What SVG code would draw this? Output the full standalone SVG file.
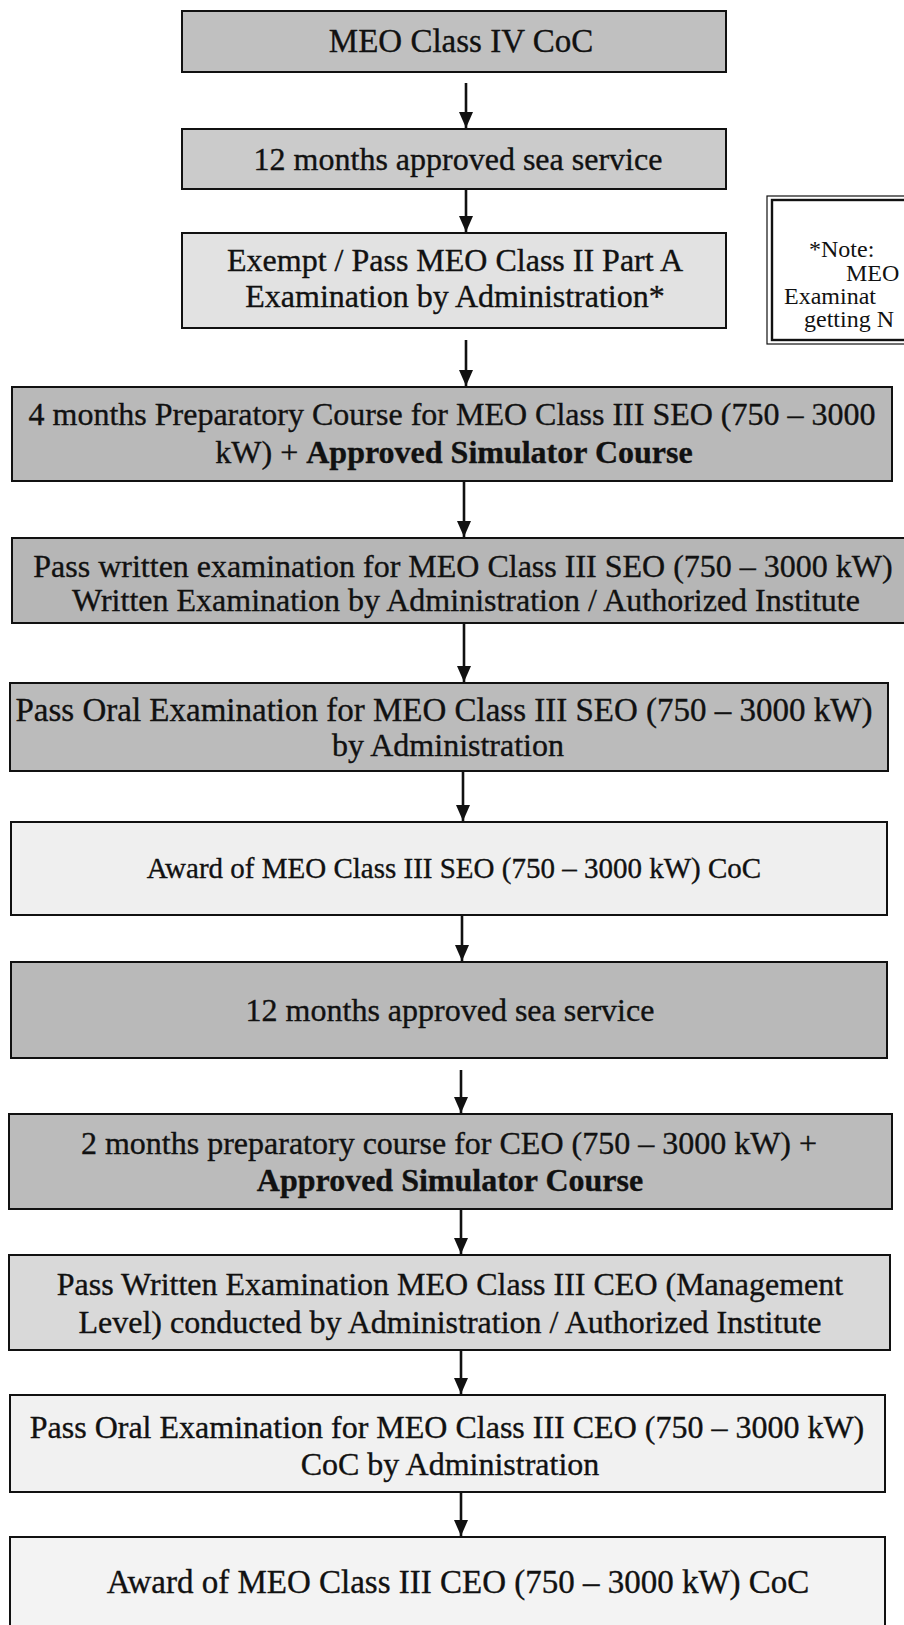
<svg xmlns="http://www.w3.org/2000/svg" width="904" height="1625" viewBox="0 0 904 1625">
<style>
.box{stroke:#111;stroke-width:2}
.t{font-family:"Liberation Serif","Times New Roman",serif;font-size:32px;fill:#111;stroke:#111;stroke-width:0.35;text-anchor:middle}
.b{font-weight:bold}
.n{font-family:"Liberation Serif","Times New Roman",serif;font-size:24px;fill:#111}
.c{stroke:#111;stroke-width:2.6;fill:none}
</style>
<defs>
<marker id="ah" markerUnits="userSpaceOnUse" markerWidth="16" markerHeight="17" viewBox="0 0 16 17" refX="16" refY="8" orient="auto">
<path d="M0,1 L16,8 L0,15 Z" fill="#111"/>
</marker>
</defs>
<rect width="904" height="1625" fill="#fff"/>

<g id="n1"><rect class="box" x="182" y="11" width="544" height="61" fill="#c0c0c0"/>
<text class="t" x="461" y="52" style="font-size:33px">MEO Class IV CoC</text></g>

<g id="n2"><rect class="box" x="182" y="129" width="544" height="60" fill="#cbcbcb"/>
<text class="t" x="458" y="170">12 months approved sea service</text></g>

<g id="n3"><rect class="box" x="182" y="233" width="544" height="95" fill="#e2e2e2"/>
<text class="t" x="455" y="271">Exempt / Pass MEO Class II Part A</text>
<text class="t" x="455" y="307">Examination by Administration*</text></g>

<g id="note"><rect x="767" y="196" width="200" height="148" fill="#fff" stroke="#111" stroke-width="1.2"/>
<rect x="772" y="200" width="200" height="140" fill="none" stroke="#111" stroke-width="2.4"/>
<text class="n" x="809" y="257">*Note:</text>
<text class="n" x="846" y="281">MEO</text>
<text class="n" x="784" y="304">Examinat</text>
<text class="n" x="804" y="327">getting N</text></g>

<g id="n4"><rect class="box" x="12" y="387" width="880" height="94" fill="#b9b9b9"/>
<text class="t" x="452" y="425">4 months Preparatory Course for MEO Class III SEO (750 – 3000</text>
<text class="t" x="454" y="463">kW) + <tspan class="b">Approved Simulator Course</tspan></text></g>

<g id="n5"><rect class="box" x="12" y="538" width="910" height="85" fill="#b6b6b6"/>
<text class="t" x="463" y="577">Pass written examination for MEO Class III SEO (750 – 3000 kW)</text>
<text class="t" x="466" y="611">Written Examination by Administration / Authorized Institute</text></g>

<g id="n6"><rect class="box" x="10" y="683" width="878" height="88" fill="#bbbbbb"/>
<text class="t" x="444" y="721" style="font-size:33px">Pass Oral Examination for MEO Class III SEO (750 – 3000 kW)</text>
<text class="t" x="448" y="756">by Administration</text></g>

<g id="n7"><rect class="box" x="11" y="822" width="876" height="93" fill="#efefef"/>
<text class="t" x="454" y="878" style="font-size:29px">Award of MEO Class III SEO (750 – 3000 kW) CoC</text></g>

<g id="n8"><rect class="box" x="11" y="962" width="876" height="96" fill="#b9b9b9"/>
<text class="t" x="450" y="1021">12 months approved sea service</text></g>

<g id="n9"><rect class="box" x="9" y="1114" width="883" height="95" fill="#bbbbbb"/>
<text class="t" x="449" y="1154">2 months preparatory course for CEO (750 – 3000 kW) +</text>
<text class="t b" x="450" y="1191">Approved Simulator Course</text></g>

<g id="n10"><rect class="box" x="9" y="1255" width="881" height="95" fill="#d9d9d9"/>
<text class="t" x="450" y="1295">Pass Written Examination MEO Class III CEO (Management</text>
<text class="t" x="450" y="1333">Level) conducted by Administration / Authorized Institute</text></g>

<g id="n11"><rect class="box" x="10" y="1395" width="875" height="97" fill="#f1f1f1"/>
<text class="t" x="447" y="1438">Pass Oral Examination for MEO Class III CEO (750 – 3000 kW)</text>
<text class="t" x="450" y="1475">CoC by Administration</text></g>

<g id="n12"><rect class="box" x="10" y="1537" width="875" height="110" fill="#f3f3f3"/>
<text class="t" x="458" y="1593" style="font-size:33px">Award of MEO Class III CEO (750 – 3000 kW) CoC</text></g>

<g id="connectors">
<line class="c" x1="466" y1="83" x2="466" y2="128" marker-end="url(#ah)"/>
<line class="c" x1="466" y1="190" x2="466" y2="232" marker-end="url(#ah)"/>
<line class="c" x1="466" y1="340" x2="466" y2="386" marker-end="url(#ah)"/>
<line class="c" x1="464" y1="482" x2="464" y2="537" marker-end="url(#ah)"/>
<line class="c" x1="464" y1="624" x2="464" y2="682" marker-end="url(#ah)"/>
<line class="c" x1="463" y1="772" x2="463" y2="821" marker-end="url(#ah)"/>
<line class="c" x1="462" y1="916" x2="462" y2="961" marker-end="url(#ah)"/>
<line class="c" x1="461" y1="1070" x2="461" y2="1113" marker-end="url(#ah)"/>
<line class="c" x1="461" y1="1210" x2="461" y2="1254" marker-end="url(#ah)"/>
<line class="c" x1="461" y1="1351" x2="461" y2="1394" marker-end="url(#ah)"/>
<line class="c" x1="461" y1="1493" x2="461" y2="1536" marker-end="url(#ah)"/>
</g>
</svg>
